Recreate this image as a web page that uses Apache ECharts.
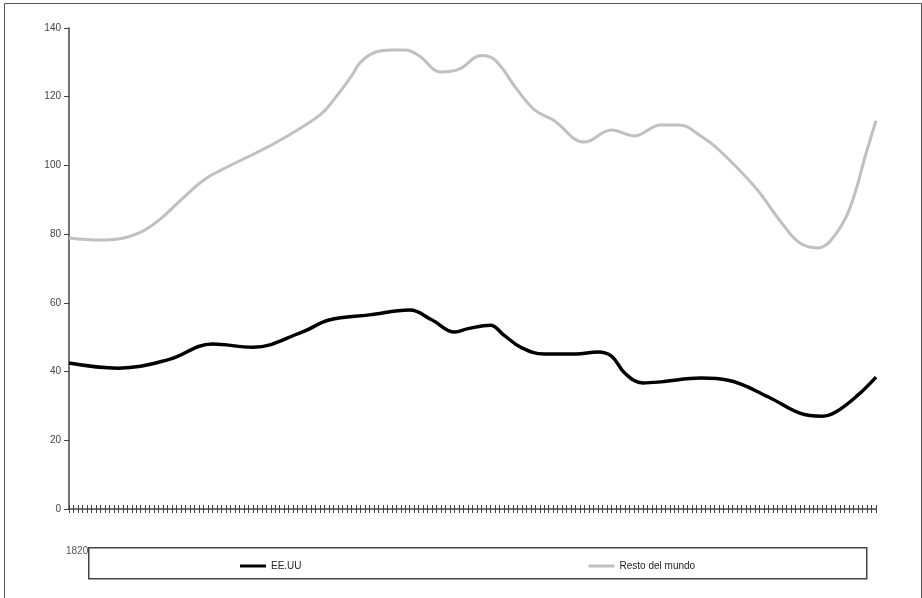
<!DOCTYPE html>
<html><head><meta charset="utf-8">
<script src="https://cdn.jsdelivr.net/npm/echarts@6/dist/echarts.min.js"></script>
<style>html,body{margin:0;padding:0;background:#fff}#c{width:922px;height:598px}</style>
</head><body><div id="c"></div>
<script>
// Categories: years 1820..2000
const years = [];
for (let y = 1820; y <= 2000; y++) years.push(String(y));
const yTicks = [0, 20, 40, 60, 80, 100, 120, 140];
// [category index, value] key points
const eeuu = [[0,42.5],[11,41],[22,43.4],[32,48],[41,47.1],[52,51.5],[58,55],[67,56.5],[76,57.9],[81,55],[86,51.5],[89,52.5],[94,53.5],[97,50.6],[101,46.9],[106,45.1],[113,45.1],[118,45.7],[121,44.5],[124,39.5],[128,36.7],[132,37],[141,38.1],[147,37.5],[156,32.6],[163,27.9],[168,27],[171,28.2],[176,33.2],[180,38.4]];
const resto = [[0,78.9],[7,78.3],[11,78.6],[16,80.6],[20,84],[25,90],[30,95.7],[34,98.7],[43,104.5],[49,108.8],[56,114.7],[59,119],[63,126],[65,130],[68,132.8],[72,133.6],[75,133.6],[78,132],[83,127.2],[87,128],[92,132],[95,130.7],[100,122],[104,116],[108,113.2],[115,106.8],[121,110.3],[126,108.6],[132,111.8],[136,111.8],[141,108.5],[145,104.5],[153,93.7],[159,83.2],[163,77.4],[167,76],[170,78.3],[174,87],[178,104.5],[180,113]];
const names = ['EE.UU', 'Resto del mundo'];

const chart = echarts.init(document.getElementById('c'), null, {renderer: 'canvas'});
const axisCol = '#444';
chart.setOption({
  animation: false,
  backgroundColor: '#fff',
  grid: {left: 69, right: 46, top: 28, bottom: 89},
  xAxis: [{
    type: 'category', data: years, boundaryGap: false,
    axisLine: {lineStyle: {color: axisCol, width: 1.5}},
    axisTick: {interval: 0, length: 4, lineStyle: {color: axisCol}},
    axisLabel: {interval: 0, margin: 37, color: '#555', fontSize: 10, fontFamily: 'Liberation Sans',
      align: 'left', padding: [0, 0, 0, -3],
      formatter: (v, i) => i === 0 ? v : ''}
  }, {
    type: 'category', data: years, boundaryGap: false, position: 'bottom',
    axisLine: {show: false},
    axisTick: {inside: true, interval: 0, length: 4, lineStyle: {color: axisCol}},
    axisLabel: {show: false}
  }],
  yAxis: {
    type: 'value', min: 0, max: 140, interval: 20,
    splitLine: {show: false},
    axisLine: {show: true, lineStyle: {color: axisCol, width: 1.5}},
    axisTick: {show: true, length: 5, lineStyle: {color: axisCol}},
    axisLabel: {color: '#444', fontSize: 10, fontFamily: 'Liberation Sans', margin: 8,
      formatter: v => yTicks.includes(v) ? String(v) : ''}
  },
  legend: {
    left: 235, top: 556, itemGap: 287, itemWidth: 26, itemHeight: 3,
    icon: 'rect',
    textStyle: {fontSize: 10, fontFamily: 'Liberation Sans', color: '#222', padding: [0,0,0,0]},
    data: names, z: 20
  },
  graphic: [
    {type: 'rect', left: 2, top: 1, shape: {width: 917, height: 595}, style: {fill: 'none', stroke: '#555', lineWidth: 1}, z: 0, silent: true},
    {type: 'rect', left: 88, top: 547, shape: {width: 778, height: 31}, style: {fill: '#fff', stroke: '#444', lineWidth: 1.5}, z: 10, silent: true}
  ],
  series: [
    {name: names[0], type: 'line', data: eeuu, smooth: 0.4, symbol: 'none',
      lineStyle: {color: '#000', width: 3.5}, itemStyle: {color: '#000'}},
    {name: names[1], type: 'line', data: resto, smooth: 0.4, symbol: 'none',
      lineStyle: {color: '#c0c0c0', width: 3}, itemStyle: {color: '#c0c0c0'}}
  ]
});
</script></body></html>
